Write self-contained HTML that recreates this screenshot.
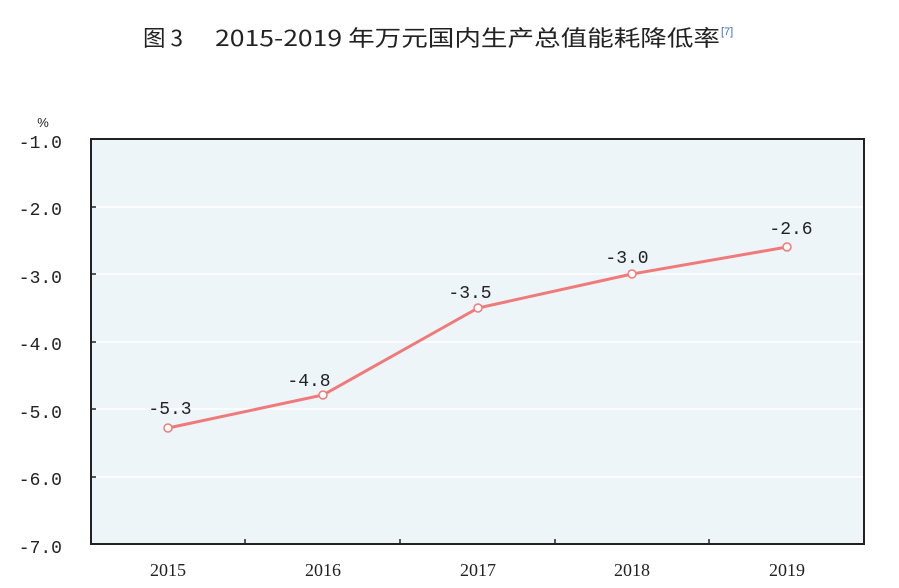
<!DOCTYPE html>
<html><head><meta charset="utf-8"><style>
body{margin:0;background:#fff;}
svg{display:block;}
</style></head><body>
<svg width="899" height="588" xmlns="http://www.w3.org/2000/svg">
<text x="143" y="46" font-family="'Noto Sans CJK SC',sans-serif" font-size="22" fill="#222" textLength="40" lengthAdjust="spacingAndGlyphs">图 3</text>
<text x="215" y="46" font-family="'Noto Sans CJK SC',sans-serif" font-size="22" fill="#222" textLength="505" lengthAdjust="spacingAndGlyphs">2015-2019 年万元国内生产总值能耗降低率</text>
<text x="721" y="35" font-family="'Liberation Sans',sans-serif" font-size="11" fill="#3b6fc4">[7]</text>
<rect x="91" y="139" width="773" height="405" fill="#edf5f8" stroke="#222" stroke-width="2"/>
<g stroke="#fff" stroke-width="1.5">
<line x1="92" y1="207" x2="863" y2="207"/>
<line x1="92" y1="274" x2="863" y2="274"/>
<line x1="92" y1="342" x2="863" y2="342"/>
<line x1="92" y1="409" x2="863" y2="409"/>
<line x1="92" y1="477" x2="863" y2="477"/>
</g>
<g stroke="#222" stroke-width="1.5">
<line x1="91" y1="207" x2="96" y2="207"/><line x1="91" y1="274" x2="96" y2="274"/><line x1="91" y1="342" x2="96" y2="342"/><line x1="91" y1="409" x2="96" y2="409"/><line x1="91" y1="477" x2="96" y2="477"/>
<line x1="245" y1="539" x2="245" y2="544"/><line x1="400" y1="539" x2="400" y2="544"/><line x1="555" y1="539" x2="555" y2="544"/><line x1="709" y1="539" x2="709" y2="544"/>
</g>
<g font-family="'Liberation Mono',monospace" font-size="18" fill="#222" text-anchor="end">
<text x="62" y="148">-1.0</text><text x="62" y="215">-2.0</text><text x="62" y="283">-3.0</text><text x="62" y="350">-4.0</text><text x="62" y="418">-5.0</text><text x="62" y="485">-6.0</text><text x="62" y="553">-7.0</text>
</g>
<text x="43" y="127" font-family="'Liberation Sans',sans-serif" font-size="13" fill="#222" text-anchor="middle">%</text>
<g font-family="'Liberation Serif',serif" font-size="18" fill="#222" text-anchor="middle">
<text x="168" y="576">2015</text><text x="323" y="576">2016</text><text x="478" y="576">2017</text><text x="632" y="576">2018</text><text x="787" y="576">2019</text>
</g>
<polyline points="168,428 323,395 478,308 632,274 787,247" fill="none" stroke="#f07a7a" stroke-width="3"/>
<g fill="#fff" stroke="#f07a7a" stroke-width="1.5">
<circle cx="168" cy="428" r="4"/><circle cx="323" cy="395" r="4"/><circle cx="478" cy="308" r="4"/><circle cx="632" cy="274" r="4"/><circle cx="787" cy="247" r="4"/>
</g>
<g font-family="'Liberation Mono',monospace" font-size="18" fill="#222" text-anchor="middle">
<text x="170" y="414">-5.3</text><text x="309" y="386">-4.8</text><text x="470" y="298">-3.5</text><text x="627" y="263">-3.0</text><text x="791" y="234">-2.6</text>
</g>
</svg>
</body></html>
